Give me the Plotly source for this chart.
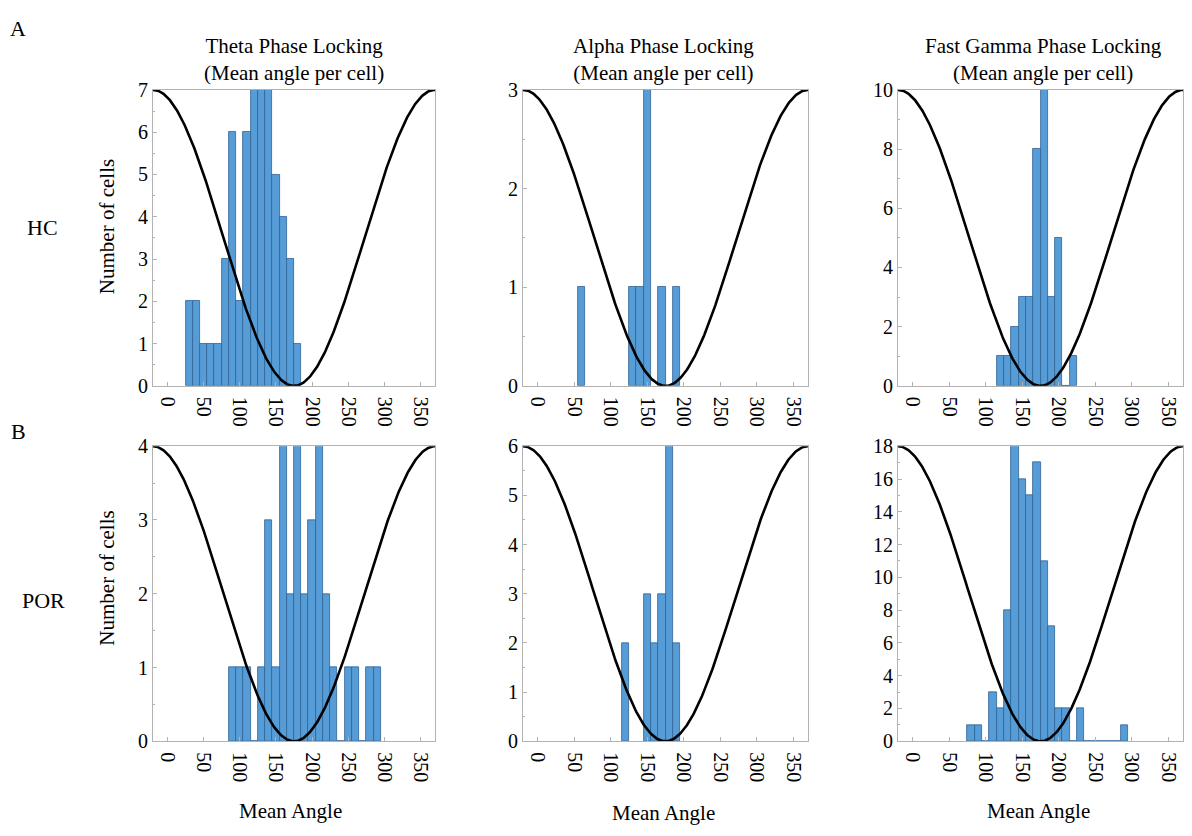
import numpy as np
import plotly.graph_objects as go

# Histogram bin centres (degrees) and cell counts for each panel
theta_hc_centers = [30, 40, 50, 60, 70, 80, 90, 100, 110, 120, 130, 140, 150, 160, 170, 180]
theta_hc_counts = [2, 2, 1, 1, 1, 3, 6, 2, 6, 7, 7, 7, 5, 4, 3, 1]

alpha_hc_centers = [60, 130, 140, 150, 170, 190]
alpha_hc_counts = [1, 1, 1, 3, 1, 1]

gamma_hc_centers = [120, 130, 140, 150, 160, 170, 180, 190, 200, 210, 220]
gamma_hc_counts = [1, 1, 2, 3, 3, 8, 10, 3, 5, 0, 1]

theta_por_centers = [90, 100, 110, 120, 130, 140, 150, 160, 170, 180, 190,
                     200, 210, 220, 230, 240, 250, 260, 270, 280, 290]
theta_por_counts = [1, 1, 1, 0, 1, 3, 1, 4, 2, 4, 2, 3, 4, 2, 1, 0, 1, 1, 0, 1, 1]

alpha_por_centers = [120, 150, 160, 170, 180, 190]
alpha_por_counts = [2, 3, 2, 3, 6, 2]

gamma_por_centers = [80, 90, 100, 110, 120, 130, 140, 150, 160, 170, 180,
                     190, 200, 210, 220, 230, 240, 250, 260, 270, 280, 290]
gamma_por_counts = [1, 1, 0, 3, 2, 8, 18, 16, 15, 17, 11, 7, 2, 2, 0, 2, 0, 0, 0, 0, 0, 1]

panel_titles = ["Theta Phase Locking<br>(Mean angle per cell)",
                "Alpha Phase Locking<br>(Mean angle per cell)",
                "Fast Gamma Phase Locking<br>(Mean angle per cell)"]
y_max = [7, 3, 10, 4, 6, 18]
y_step = [1, 1, 2, 1, 1, 2]
x_tick_vals = [0, 50, 100, 150, 200, 250, 300, 350]

BIN_WIDTH = 10
FONT = "Liberation Serif, Times New Roman, serif"
BAR_FILL = "rgb(86,156,214)"
BAR_EDGE = "rgb(48,98,150)"
FRAME = "rgb(178,178,178)"

W, H = 1192, 836
col_px = [(153, 435), (523, 808), (898, 1183)]
row_px = [(81, 385), (447, 750)]

panels = [
    (theta_hc_centers, theta_hc_counts),
    (alpha_hc_centers, alpha_hc_counts),
    (gamma_hc_centers, gamma_hc_counts),
    (theta_por_centers, theta_por_counts),
    (alpha_por_centers, alpha_por_counts),
    (gamma_por_centers, gamma_por_counts),
]

fig = go.Figure()
layout = {}

# reference phase wave drawn across each panel (peak at 0/360, trough at 180)
wave_x = np.linspace(0, 360, 361)
wave_shape = (np.cos(np.deg2rad(wave_x)) + 1) / 2

for i, (centers, counts) in enumerate(panels):
    r, c = divmod(i, 3)
    n = i + 1
    xa = "x" if n == 1 else f"x{n}"
    ya = "y" if n == 1 else f"y{n}"
    ov = f"x{n + 6}"

    x0, x1 = col_px[c]
    y0, y1 = row_px[r]
    xdom = [x0 / W, x1 / W]
    ydom = [1 - y1 / H, 1 - y0 / H]

    fig.add_trace(go.Bar(
        x=centers, y=counts, width=BIN_WIDTH,
        marker=dict(color=BAR_FILL, line=dict(color=BAR_EDGE, width=0.8)),
        xaxis=xa, yaxis=ya, showlegend=False,
    ))
    fig.add_trace(go.Scatter(
        x=wave_x, y=wave_shape * y_max[i], mode="lines",
        line=dict(color="black", width=2.6),
        xaxis=ov, yaxis=ya, showlegend=False, cliponaxis=False,
    ))

    axis_common = dict(
        showline=True, linecolor=FRAME, linewidth=1, mirror=True,
        ticks="inside", tickcolor=FRAME, ticklen=4,
        showgrid=False, zeroline=False,
        tickfont=dict(family=FONT, size=20, color="black"),
    )
    layout[f"xaxis{n}" if n > 1 else "xaxis"] = dict(
        axis_common, domain=xdom, anchor=ya, range=[-20, 370],
        tickmode="array", tickvals=x_tick_vals, tickangle=90,
        ticklabelstandoff=6,
    )
    layout[f"yaxis{n}" if n > 1 else "yaxis"] = dict(
        axis_common, domain=ydom, anchor=xa, range=[0, y_max[i]],
        dtick=y_step[i], tick0=0,
        minor=dict(ticks="inside", ticklen=2, tickcolor=FRAME, dtick=y_step[i] / 2),
    )
    layout[f"xaxis{n + 6}"] = dict(
        overlaying=xa, anchor=ya, range=[0, 360], visible=False,
    )

fig.update_layout(**layout)

annotations = []
title_centres = [294, 663, 1043]
for t, xc in zip(panel_titles, title_centres):
    annotations.append(dict(text=t, x=xc / W, y=1 - 50 / H, xref="paper", yref="paper",
                            showarrow=False, font=dict(family=FONT, size=21, color="black"),
                            xanchor="center", yanchor="middle"))
for xc, yc in [(290, 822), (663, 824), (1038, 822)]:
    annotations.append(dict(text="Mean Angle", x=xc / W, y=1 - yc / H, xref="paper", yref="paper",
                            showarrow=False, font=dict(family=FONT, size=21, color="black"),
                            xanchor="center", yanchor="middle"))
for yc in [222, 583]:
    annotations.append(dict(text="Number of cells", x=107 / W, y=1 - yc / H, xref="paper",
                            yref="paper", showarrow=False, textangle=-90,
                            font=dict(family=FONT, size=21, color="black"),
                            xanchor="center", yanchor="middle"))
for txt, xc, yc in [("HC", 42, 222), ("POR", 43, 605), ("A", 18, 18), ("B", 18, 432)]:
    annotations.append(dict(text=txt, x=xc / W, y=1 - yc / H, xref="paper", yref="paper",
                            showarrow=False, font=dict(family=FONT, size=22, color="black"),
                            xanchor="center", yanchor="middle"))

fig.update_layout(
    width=W, height=H, margin=dict(l=0, r=0, t=0, b=0),
    paper_bgcolor="white", plot_bgcolor="white",
    bargap=0, annotations=annotations,
    font=dict(family=FONT, color="black"),
)

fig.write_html("out.html")
